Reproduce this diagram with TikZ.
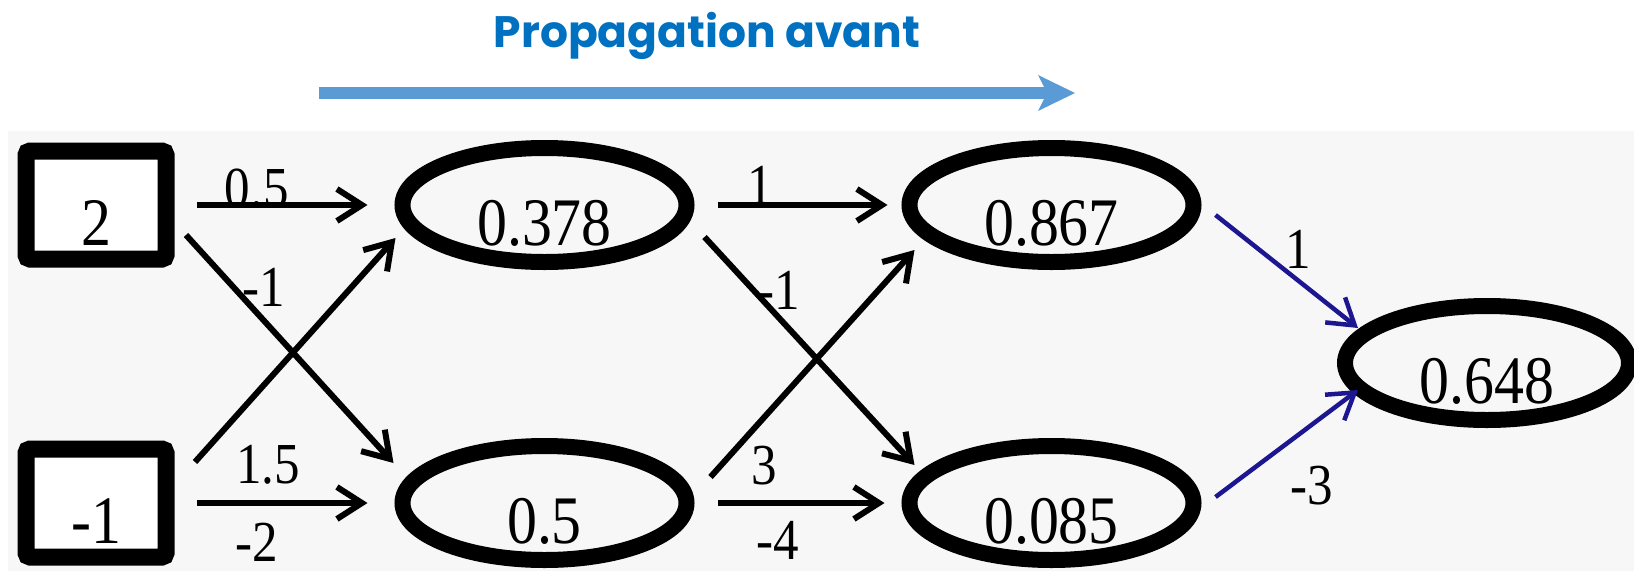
\documentclass[tikz,border=0pt]{standalone}
\usepackage{fontspec}
\setmainfont{Liberation Serif}
\newfontfamily\numfont[FakeStretch=0.88]{Liberation Serif}
\newfontfamily\titlefont{Poppins}
\usepackage{tikz}
\usetikzlibrary{shapes.geometric,arrows.meta,positioning}
\definecolor{titleBlue}{HTML}{0070C0}
\definecolor{forwardBlue}{HTML}{5B9BD5}
\definecolor{edgeNavy}{HTML}{1C1690}

\begin{document}
\begin{tikzpicture}[
    x=1pt, y=-1pt,
    every node/.style = {font=\numfont\fontsize{68}{76}\selectfont},
    inbox/.style = {rectangle, draw, line width=17pt, rounded corners=4pt, fill=white, minimum width=140pt, minimum height=108pt, inner sep=0pt, text height=80pt, text depth=0pt},
    neuron/.style = {ellipse, draw, line width=16pt, minimum width=284pt, minimum height=114pt, inner sep=0pt, text height=80pt, text depth=0pt},
    wlabel/.style = {font=\numfont\fontsize{58}{64}\selectfont, inner sep=0pt, text height=39pt, text depth=0pt},
    arrow/.style = {-{Straight Barb[length=25pt, width=32pt]}, line width=6pt},
    outarrow/.style = {arrow, line width=4.5pt, draw=edgeNavy}
]
    \useasboundingbox (0,0) rectangle (1634,571);
    \fill[black!3] (8,131) rectangle (1634,571);

    % Title and direction
    \node[font=\titlefont\bfseries\fontsize{44}{50}\selectfont, text=titleBlue, anchor=base] (title) at (707,47) {Propagation avant};
    \coordinate (fwdstart) at (319,93);
    \coordinate (fwdend) at (1075,93);
    \draw[forwardBlue, line width=12pt, -{Stealth[length=37pt, width=36pt, inset=9pt, line width=0pt]}] (fwdstart) -- (fwdend);

    % Network
    \node[inbox] (in1) at (96,205) {2};
    \node[inbox, below=173pt of in1] (in2) {-1};
    \node[neuron, right=220pt of in1] (h1) {0.378};
    \node[neuron, below=168pt of h1] (h2) {0.5};
    \node[neuron, right=207pt of h1] (o1) {0.867};
    \node[neuron, below=168pt of o1] (o2) {0.085};
    \node[neuron] (out) at (1487,363) {0.648};

    % Connections
    \draw[arrow] ([shift={(22.5,0)}]in1.east) -- node[wlabel, pos=0.35, yshift=17pt] {0.5} ([shift={(-27,0)}]h1.west);
    \draw[arrow] ([shift={(11.5,30)}]in1.east) -- node[wlabel, pos=0.3, xshift=16pt, yshift=16pt] {-1} ([shift={(-1,-40)}]h2.west);
    \draw[arrow] ([shift={(20.5,-41)}]in2.east) -- node[wlabel, pos=0.05, xshift=63pt, yshift=-13pt] {1.5} ([shift={(1,33)}]h1.west);
    \draw[arrow] ([shift={(22.5,0)}]in2.east) -- node[wlabel, pos=0.35, yshift=-39pt] {-2} ([shift={(-27,0)}]h2.west);
    \draw[arrow] ([shift={(23,0)}]h1.east) -- node[wlabel, pos=0.25, yshift=20pt] {1} ([shift={(-14,0)}]o1.west);
    \draw[arrow] ([shift={(10,32)}]h1.east) -- node[wlabel, pos=0.3, xshift=11pt, yshift=15pt] {-1} ([shift={(13,-38)}]o2.west);
    \draw[arrow] ([shift={(16,-26)}]h2.east) -- node[wlabel, pos=0.1, xshift=33pt, yshift=-11pt] {3} ([shift={(13,45)}]o1.west);
    \draw[arrow] ([shift={(23,0)}]h2.east) -- node[wlabel, pos=0.36, yshift=-37pt] {-4} ([shift={(-17,0)}]o2.west);
    \draw[outarrow] ([shift={(14,10)}]o1.east) -- node[wlabel, pos=0.5, xshift=11pt, yshift=23pt] {1} ([shift={(21,-35)}]out.west);
    \draw[outarrow] ([shift={(14,-6)}]o2.east) -- node[wlabel, pos=0.6, xshift=11pt, yshift=-52pt] {-3} ([shift={(21,27)}]out.west);
\end{tikzpicture}
\end{document}
